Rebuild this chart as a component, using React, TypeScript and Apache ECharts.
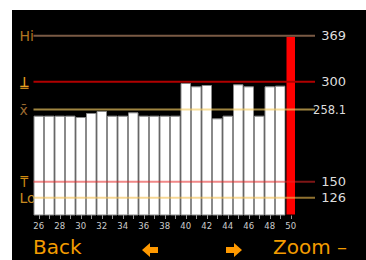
import React, { useEffect, useRef } from "react";
import * as echarts from "echarts";

const categories = ["26","27","28","29","30","31","32","33","34","35","36","37","38","39","40","41","42","43","44","45","46","47","48","49","50"];
const values = [249,249,249,249,247,253,256,249,249,254,249,249,249,249,298,293,295,245,249,296,293,249,293,294,369];
const refValues = [369, 300, 258.1, 150, 126];
const leftLabels = ["Hi", "⍊", "x̄", "⍑", "Lo"];
const leftStyles = ["hi", "up", "xb", "dn", "lo"];
const refColors = ["#7a5a44", "#b00000", "rgba(245,205,100,0.65)", "rgba(230,40,40,0.55)", "rgba(240,190,80,0.6)"];

export default function App() {
  const ref = useRef<HTMLDivElement>(null);
  useEffect(() => {
    if (!ref.current) return;
    const chart = echarts.init(ref.current, undefined, { renderer: "svg" });
    const lastIdx = values.length - 1;
    const barData = values.map((v, i) =>
      i === lastIdx ? { value: v, itemStyle: { color: "#ff0000", borderColor: "#000", borderWidth: 1 } } : v
    );
    const lineSeries = refValues.map((v, i) => ({
      type: "line",
      xAxisIndex: 1,
      yAxisIndex: 1,
      data: [[0, v], [1, v]],
      symbol: "none",
      silent: true,
      z: 5,
      lineStyle: { color: refColors[i], width: 2 },
    }));
    chart.setOption({
      animation: false,
      backgroundColor: "#000",
      grid: [
        { left: 33.5, right: 70, top: 15, bottom: 45 },
        { left: 33.5, right: 51, top: 15, bottom: 45 },
      ],
      xAxis: [
        {
          type: "category",
          gridIndex: 0,
          data: categories,
          axisLine: { show: false },
          axisTick: { show: true, alignWithLabel: true, interval: 0, length: 4, lineStyle: { color: "#999" } },
          axisLabel: { interval: 1, color: "#cccccc", fontSize: 8.5, margin: 6, fontFamily: "DejaVu Sans" },
        },
        { type: "value", gridIndex: 1, min: 0, max: 1, show: false },
      ],
      yAxis: [
        { type: "value", gridIndex: 0, min: 100, max: 400, show: false },
        {
          type: "value",
          gridIndex: 1,
          min: 100,
          max: 400,
          position: "left",
          splitLine: { show: false },
          axisLine: { show: false },
          axisTick: { show: false },
          axisLabel: {
            customValues: refValues,
            align: "left",
            margin: 14,
            fontFamily: "DejaVu Sans",
            formatter: (v: number) => {
              const i = refValues.indexOf(v);
              return i < 0 ? "" : `{${leftStyles[i]}|${leftLabels[i]}}`;
            },
            rich: {
              hi: { color: "#b07420", fontSize: 14, lineHeight: 14, fontFamily: "DejaVu Sans" },
              up: { color: "#e8a020", fontSize: 16, lineHeight: 14, fontFamily: "DejaVu Sans Mono" },
              xb: { color: "#9a6a30", fontSize: 14, lineHeight: 14, fontFamily: "DejaVu Sans" },
              dn: { color: "#d08a10", fontSize: 15, lineHeight: 13, fontFamily: "DejaVu Sans Mono" },
              lo: { color: "#c88a20", fontSize: 14, lineHeight: 13, fontFamily: "DejaVu Sans" },
            },
          },
        },
        {
          type: "value",
          gridIndex: 1,
          min: 100,
          max: 400,
          position: "right",
          splitLine: { show: false },
          axisLine: { show: false },
          axisTick: { show: false },
          axisLabel: {
            customValues: refValues,
            align: "right",
            margin: 31,
            color: "#dddddd",
            fontSize: 13,
            fontFamily: "DejaVu Sans",
            formatter: (v: number) => (v === 258.1 ? `{s|${v}}` : String(v)),
            rich: { s: { fontSize: 11.5, color: "#dddddd", fontFamily: "DejaVu Sans" } },
          },
        },
      ],
      graphic: [
        { type: "rect", shape: { x: 0, y: 0, width: 366, height: 10 }, style: { fill: "#fff" } },
        { type: "rect", shape: { x: 0, y: 0, width: 12, height: 260 }, style: { fill: "#fff" } },
        {
          type: "text",
          x: 33,
          y: 257,
          style: { text: "Back", fill: "#f39c00", fontSize: 20, fontFamily: "DejaVu Sans", textVerticalAlign: "bottom" },
        },
        {
          type: "text",
          x: 273,
          y: 257,
          style: { text: "Zoom –", fill: "#f39c00", fontSize: 20, fontFamily: "DejaVu Sans", textVerticalAlign: "bottom" },
        },
        {
          type: "polygon",
          shape: { points: [[142, 250], [150, 243], [150, 247], [158, 247], [158, 253], [150, 253], [150, 257]] },
          style: { fill: "#ff9900" },
        },
        {
          type: "polygon",
          shape: { points: [[242, 250], [234, 243], [234, 247], [226, 247], [226, 253], [234, 253], [234, 257]] },
          style: { fill: "#ff9900" },
        },
      ],
      series: [
        {
          type: "bar",
          xAxisIndex: 0,
          yAxisIndex: 0,
          data: barData,
          barCategoryGap: "0%",
          itemStyle: { color: "#ffffff", borderColor: "#8a8a8a", borderWidth: 1 },
          silent: true,
        },
        ...lineSeries,
      ],
    });
    return () => chart.dispose();
  }, []);
  return <div ref={ref} style={{ position: "fixed", left: 0, top: 0, width: 366, height: 260 }} />;
}
